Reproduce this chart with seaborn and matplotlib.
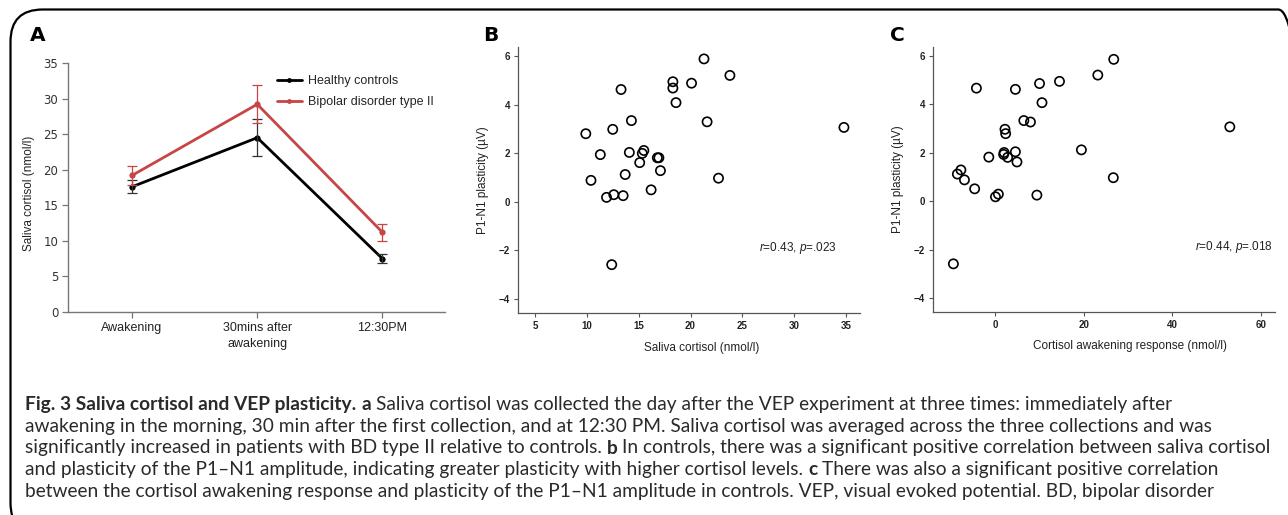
import numpy as np
import pandas as pd
import matplotlib
matplotlib.use("Agg")
import matplotlib.pyplot as plt
import seaborn as sns
from matplotlib.patches import FancyBboxPatch
from matplotlib.lines import Line2D

# ---------------- data ----------------
times = ["Awakening", "30mins after\nawakening", "12:30PM"]
groups = ["Healthy controls", "Bipolar disorder type II"]
hc_mean = [17.6, 24.5, 7.5]
hc_err = [0.9, 2.6, 0.6]
bd_mean = [19.2, 29.2, 11.2]
bd_err = [1.3, 2.7, 1.2]

b_cortisol = [9.9, 10.4, 11.3, 11.9, 12.4, 12.5, 12.6, 13.3, 13.5, 13.7, 14.1, 14.3,
              15.1, 15.35, 15.5, 16.2, 16.8, 16.95, 17.1, 18.3, 18.3, 18.6, 20.1, 21.3,
              21.6, 22.7, 23.8, 34.8]
b_plasticity = [2.80, 0.88, 1.94, 0.18, -2.59, 2.98, 0.29, 4.62, 0.25, 1.12, 2.03, 3.34,
                1.61, 1.99, 2.11, 0.49, 1.81, 1.81, 1.28, 4.94, 4.68, 4.08, 4.88, 5.88,
                3.29, 0.97, 5.20, 3.06]

c_car = [-9.4, -8.5, -7.7, -6.9, -4.6, -4.2, -1.4, 0.1, 0.75, 1.95, 2.05, 2.25, 2.4, 2.85,
         4.6, 4.6, 4.95, 6.5, 8.0, 9.45, 10.05, 10.6, 14.55, 19.5, 23.2, 26.7, 26.8, 53.0]
c_plasticity = [-2.59, 1.12, 1.29, 0.88, 0.51, 4.67, 1.82, 0.18, 0.29, 1.93, 2.01, 2.97,
                2.79, 1.81, 2.04, 4.62, 1.62, 3.33, 3.27, 0.25, 4.86, 4.07, 4.95, 2.12,
                5.21, 0.97, 5.86, 3.07]

b_stat = r"$\it{r}$=0.43, $\it{p}$=.023"
c_stat = r"$\it{r}$=0.44, $\it{p}$=.018"

caption_lines = [
    [("Fig. 3 Saliva cortisol and VEP plasticity.", True), ("a", True),
     ("Saliva cortisol was collected the day after the VEP experiment at three times: immediately after", False)],
    [("awakening in the morning, 30 min after the first collection, and at 12:30 PM. Saliva cortisol was averaged across the three collections and was", False)],
    [("significantly increased in patients with BD type II relative to controls.", False), ("b", True),
     ("In controls, there was a significant positive correlation between saliva cortisol", False)],
    [("and plasticity of the P1\u2013N1 amplitude, indicating greater plasticity with higher cortisol levels.", False), ("c", True),
     ("There was also a significant positive correlation", False)],
    [("between the cortisol awakening response and plasticity of the P1\u2013N1 amplitude in controls. VEP, visual evoked potential. BD, bipolar disorder", False)],
]

# ---------------- style ----------------
sns.set_theme(style="white")
plt.rcParams["font.family"] = ["Liberation Sans", "DejaVu Sans"]
plt.rcParams["mathtext.fontset"] = "custom"
plt.rcParams["mathtext.it"] = "Liberation Sans:italic"
plt.rcParams["mathtext.rm"] = "Liberation Sans"

W, H = 1288, 515
fig = plt.figure(figsize=(W / 100, H / 100), dpi=100)
fig.patch.set_facecolor("white")


def px_axes(left, top, right, bottom):
    return fig.add_axes([left / W, 1 - bottom / H, (right - left) / W, (bottom - top) / H])


# border
border = FancyBboxPatch((10.5 / W, -20 / H), 1300 / W, (505.5 + 20) / H,
                        boxstyle="round,pad=0,rounding_size=0.025",
                        transform=fig.transFigure, fill=False, lw=1.6, ec="black",
                        mutation_aspect=W / H, clip_on=False)
fig.patches.append(border)

RED = "#c84545"
BLACK = "#000000"

# ---------------- panel A ----------------
axA = px_axes(68, 63, 445, 312)
pos = np.arange(len(times))
dfA = pd.DataFrame({
    "pos": np.concatenate([pos, pos]),
    "value": hc_mean + bd_mean,
    "group": [groups[0]] * 3 + [groups[1]] * 3,
})
sns.lineplot(data=dfA, x="pos", y="value", hue="group", palette=[BLACK, RED],
             marker="o", markersize=4.5, markeredgewidth=0, linewidth=2.0,
             ax=axA, legend=False)
axA.errorbar(pos, hc_mean, yerr=hc_err, fmt="none", ecolor="#333333", elinewidth=0.9,
             capsize=3.5, capthick=0.9, zorder=3)
axA.errorbar(pos, bd_mean, yerr=bd_err, fmt="none", ecolor=RED, elinewidth=0.9,
             capsize=3.5, capthick=0.9, zorder=3)
axA.set_xlim(-0.512, 2.5)
axA.set_ylim(0, 35)
axA.set_yticks(np.arange(0, 36, 5))
axA.set_xticks(pos)
axA.set_xticklabels(times, fontsize=9, color="#222222", linespacing=1.5)
axA.set_yticklabels([str(v) for v in range(0, 36, 5)], fontsize=8.5,
                    family="DejaVu Sans", color="#333333")
axA.set_xlabel("")
axA.set_ylabel("Saliva cortisol (nmol/l)", fontsize=8.5, color="#222222")
axA.yaxis.set_label_coords(-0.0875, 0.478)
for s in ["top", "right"]:
    axA.spines[s].set_visible(False)
for s in ["left", "bottom"]:
    axA.spines[s].set_color("#777777")
    axA.spines[s].set_linewidth(1.0)
axA.tick_params(axis="both", which="both", length=4, width=0.9, color="#777777",
                direction="out", left=True, bottom=True, pad=3)
handles = [Line2D([0], [0], color=BLACK, lw=2.0, marker="o", markersize=3.5, markeredgewidth=0),
           Line2D([0], [0], color=RED, lw=2.0, marker="o", markersize=3.5, markeredgewidth=0)]
axA.legend(handles, groups, loc="upper left", bbox_to_anchor=(0.54, 0.97), frameon=False,
           fontsize=9, handlelength=2.0, handletextpad=0.55, labelspacing=0.7,
           borderaxespad=0)


# ---------------- scatter panels ----------------
def scatter_panel(ax, x, y, xlim, xticks, xlabel, xlab_x, stat, stat_x):
    sns.scatterplot(x=x, y=y, ax=ax, s=44, marker="o", facecolor="none",
                    edgecolor="black", linewidth=1.2, zorder=3)
    ax.set_xlim(*xlim)
    ax.set_ylim(-4.58, 6.37)
    ax.set_xticks(xticks)
    ax.set_yticks([-4, -2, 0, 2, 4, 6])
    ax.tick_params(axis="both", length=3, width=0.8, color="#555555", direction="out",
                   left=True, bottom=True, labelsize=7, pad=2.5)
    for lab in ax.get_xticklabels() + ax.get_yticklabels():
        lab.set_fontweight("bold")
        lab.set_color("#222222")
    for s in ["top", "right"]:
        ax.spines[s].set_visible(False)
    for s in ["left", "bottom"]:
        ax.spines[s].set_color("#555555")
        ax.spines[s].set_linewidth(0.9)
    ax.set_xlabel(xlabel, fontsize=8.5, color="#222222", va="center")
    ax.xaxis.set_label_coords(xlab_x, -0.13)
    ax.set_ylabel("P1-N1 plasticity (\u00b5V)", fontsize=8.5, color="#222222", va="center")
    ax.yaxis.set_label_coords(-0.103, 0.5)
    ax.text(stat_x, 0.245, stat, transform=ax.transAxes, ha="right", va="center",
            fontsize=8.5, color="#222222")


axB = px_axes(518, 47, 860, 313)
scatter_panel(axB, b_cortisol, b_plasticity, (3.36, 36.35), [5, 10, 15, 20, 25, 30, 35],
              "Saliva cortisol (nmol/l)", 0.538, b_stat, (837 - 518) / 342)

axC = px_axes(933, 47, 1275, 312)
scatter_panel(axC, c_car, c_plasticity, (-14, 63.2), [0, 20, 40, 60],
              "Cortisol awakening response (nmol/l)", 0.576, c_stat, (1273 - 933) / 342)

# panel letters
for letter, xp in [("A", 30), ("B", 483), ("C", 890)]:
    fig.text(xp / W, 1 - 35.5 / H, letter, fontsize=14.5, fontweight="heavy",
             family="DejaVu Sans", ha="left", va="center", color="black")

# ---------------- caption ----------------
renderer = fig.canvas.get_renderer()
CAP_FONT = "Lato"


def text_width(s, bold, size):
    t = fig.text(0, 0, s, fontsize=size, family=CAP_FONT,
                 fontweight="bold" if bold else "normal")
    w = t.get_window_extent(renderer).width
    t.remove()
    return w


def line_width(segs, size):
    total = 0
    for i, (s, b) in enumerate(segs):
        total += text_width(s, b, size)
        if i < len(segs) - 1:
            total += text_width("x x", False, size) - text_width("xx", False, size)
    return total


base = 12.0
target = 1270 - 25
cap_size = base * target / line_width(caption_lines[2], base)

x0 = 25
for i, segs in enumerate(caption_lines):
    yb = 410 + 21.75 * i
    x = x0
    space = text_width("x x", False, cap_size) - text_width("xx", False, cap_size)
    for j, (s, b) in enumerate(segs):
        t = fig.text(x / W, 1 - yb / H, s, fontsize=cap_size, family=CAP_FONT,
                     fontweight="bold" if b else "normal", ha="left", va="baseline",
                     color="#2a2a2a")
        x += t.get_window_extent(renderer).width + space

fig.savefig("out.png", dpi=100, facecolor="white")
